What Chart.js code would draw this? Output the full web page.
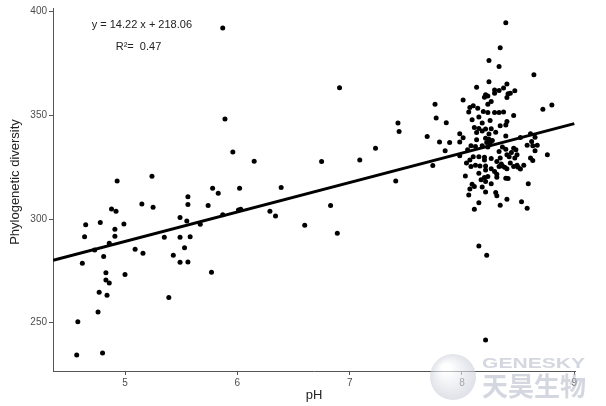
<!DOCTYPE html>
<html>
<head>
<meta charset="utf-8">
<script src="https://cdn.jsdelivr.net/npm/chart.js@4"></script>
<style>
  html, body { margin: 0; padding: 0; background: #fff; }
  #wrap { width: 606px; height: 406px; position: relative; }
</style>
</head>
<body>
<div id="wrap"><canvas id="phChart" width="606" height="406"></canvas></div>
<script>
// soil pH vs phylogenetic diversity
const phValues = [
  4.93, 5.24, 5.15, 5.25, 4.88, 4.92, 4.65, 4.78, 4.99, 4.91, 4.64, 4.91, 5.49, 5.35, 5.49, 4.86, 4.73,
  4.81, 5.09, 5.16, 4.62, 5.43, 5.49, 4.83, 5.00, 4.83, 4.86, 4.77, 4.84, 5.39, 4.76, 4.58, 4.57, 4.80,
  5.89, 5.96, 6.15, 5.78, 5.83, 6.02, 6.39, 5.56, 5.56, 5.74, 5.55, 5.87, 6.01, 6.03, 5.67, 6.29, 6.34,
  6.60, 5.58, 5.53, 5.56, 5.77,
  5.87, 6.91, 6.75, 7.09, 7.23, 7.43, 7.44, 7.41,
  7.76, 7.77, 7.69, 7.80, 7.74, 6.83, 6.89,
  8.24, 8.33, 8.64, 8.13, 8.24, 8.40, 8.47, 8.29, 8.33, 8.37, 8.41, 8.43, 8.40, 8.29, 8.21, 8.23, 8.20,
  8.01, 8.26, 8.23, 8.10, 8.07, 8.14, 8.06, 8.19, 8.23, 8.29, 8.33, 8.37, 8.72, 8.80, 8.46, 8.09, 8.15,
  8.25, 8.40, 7.86, 8.18, 8.39, 8.34, 8.11, 8.15, 8.21, 8.26, 8.30, 8.18, 8.13, 7.98, 8.01, 8.24, 8.39,
  8.21, 8.24, 8.27, 8.13, 7.89, 7.98, 8.22, 8.25, 8.61, 8.65, 8.52, 8.62, 8.58, 8.67, 8.63, 8.65, 7.85,
  8.12, 8.18, 8.23, 8.36, 8.39, 8.46, 8.48, 8.05, 8.08, 8.33, 8.44, 8.40, 7.98, 8.76, 8.49, 8.61, 8.63,
  8.10, 8.15, 8.20, 8.26, 8.34, 8.42, 8.47, 8.07, 8.20, 8.31, 8.35, 8.43, 8.49, 8.50, 8.55, 8.52, 8.04,
  8.08, 8.12, 8.16, 8.21, 8.26, 8.33, 8.38, 8.36, 8.40, 8.46, 8.21, 8.29, 8.15, 8.03, 8.20, 8.23, 8.31,
  8.31, 8.39, 8.41, 8.17, 8.21, 8.09, 8.11, 8.18, 8.07, 8.26, 8.59, 8.21, 8.30, 8.31, 8.06, 8.40, 8.15,
  8.34, 8.53, 8.58, 8.11, 8.15, 8.22, 8.21, 8.39, 8.34
];
const pdValues = [
  318.3, 320.7, 307.3, 305.7, 304.9, 303.8, 297.3, 298.3, 297.6, 295.1, 291.5, 291.7, 300.7, 291.2, 291.2, 288.3, 285.1,
  281.9, 285.4, 283.5, 278.7, 282.5, 279.2, 274.1, 273.2, 270.6, 269.2, 264.7, 263.2, 262.1, 255.2, 250.5, 234.4, 235.4,
  348.2, 332.3, 327.9, 314.9, 312.5, 314.9, 315.2, 310.8, 307.0, 306.5, 299.1, 302.1, 304.4, 304.7, 297.5, 303.8, 301.5,
  297.0, 291.5, 286.1, 279.3, 274.3,
  392.1, 363.3, 327.7, 328.5, 334.2, 346.3, 342.2, 318.3,
  355.4, 348.7, 339.8, 337.2, 325.8, 306.5, 293.2,
  376.5, 373.6, 369.6, 363.6, 366.2, 365.1, 361.9, 362.3, 362.0, 363.2, 360.4, 360.7, 358.6, 360.7, 359.9, 359.4, 358.8,
  357.4, 356.7, 355.4, 354.6, 353.8, 353.5, 351.6, 351.9, 351.4, 351.4, 351.4, 351.6, 353.0, 355.0, 349.9, 347.9, 349.2,
  347.5, 347.0, 346.4, 346.3, 345.4, 345.0, 344.1, 343.7, 343.4, 343.5, 341.9, 342.5, 341.7, 341.1, 339.2, 341.0, 340.1,
  339.0, 338.5, 337.9, 338.2, 336.9, 337.2, 336.9, 336.6, 341.1, 339.5, 339.3, 337.4, 335.6, 335.6, 335.3, 333.0, 333.0,
  335.0, 335.3, 334.7, 334.7, 333.7, 334.2, 333.4, 333.4, 335.3, 332.6, 332.1, 331.0, 330.5, 331.0, 331.0, 329.4, 328.2,
  330.1, 330.1, 329.8, 329.2, 329.5, 330.1, 329.4, 328.5, 328.5, 327.7, 326.6, 327.0, 326.0, 325.0, 326.0, 324.1, 327.0,
  325.3, 326.0, 325.6, 325.6, 324.2, 325.3, 325.0, 325.6, 324.3, 325.3, 323.7, 322.9, 322.1, 320.8, 320.0, 320.5, 321.6,
  320.2, 319.7, 319.5, 318.9, 318.1, 316.8, 315.7, 315.4, 314.5, 317.0, 317.0, 313.1, 312.8, 311.2, 311.6, 309.6, 307.9,
  306.7, 308.4, 305.2, 304.7, 287.0, 282.5, 241.6, 394.7, 382.6
];

// fitted line shown on the figure
const slope = 14.22;
const intercept = 218.06;
const fitX = [4.36, 9.0];
const xTicks = [5, 6, 7, 8, 9];
const yTicks = [250, 300, 350, 400];

const points = phValues.map((v, i) => ({ x: v, y: pdValues[i] }));
const fitLine = fitX.map(v => ({ x: v, y: slope * v + intercept }));

const FONT = "'Liberation Sans', Arial, sans-serif";

const labelPlugin = {
  id: "labels",
  afterDatasetsDraw(chart) {
    const { ctx, scales: { x, y } } = chart;
    ctx.save();
    ctx.fillStyle = "#222";
    ctx.font = "11px " + FONT;
    ctx.textAlign = "center";
    ctx.textBaseline = "middle";
    ctx.fillText("y = " + slope.toFixed(2) + " x + " + intercept.toFixed(2), x.getPixelForValue(5.15), y.getPixelForValue(393.4));
    ctx.fillText("R\u00B2=  0.47", x.getPixelForValue(5.12), y.getPixelForValue(383.2));
    // y axis title
    ctx.font = "13px " + FONT;
    ctx.translate(15, 182);
    ctx.rotate(-Math.PI / 2);
    ctx.fillText("Phylogenetic diversity", 0, 0);
    ctx.restore();
  },
  afterDraw(chart) {
    // watermark
    const { ctx } = chart;
    ctx.save();
    ctx.globalAlpha = 0.6;
    const g = ctx.createRadialGradient(446, 368, 4, 453, 377, 24);
    g.addColorStop(0, "#ffffff");
    g.addColorStop(1, "#c9ccd8");
    ctx.fillStyle = g;
    ctx.beginPath();
    ctx.arc(453, 377, 23, 0, Math.PI * 2);
    ctx.fill();
    ctx.fillStyle = "#b9bdcc";
    ctx.font = "bold 15px " + FONT;
    ctx.textBaseline = "alphabetic";
    const w = ctx.measureText("GENESKY").width;
    ctx.translate(482, 368);
    ctx.scale(103 / w, 1);
    ctx.fillText("GENESKY", 0, 0);
    ctx.restore();
    ctx.save();
    ctx.globalAlpha = 0.6;
    ctx.fillStyle = "#b9bdcc";
    ctx.font = "bold 26px 'Noto Sans CJK SC', sans-serif";
    ctx.textBaseline = "alphabetic";
    ctx.fillText("天昊生物", 482, 396);
    ctx.restore();
  }
};

new Chart(document.getElementById("phChart"), {
  type: "scatter",
  data: {
    datasets: [
      {
        label: "samples",
        data: points,
        backgroundColor: "#000",
        borderWidth: 0,
        pointRadius: 2.5
      },
      {
        type: "line",
        label: "fit",
        data: fitLine,
        borderColor: "#000",
        borderWidth: 3,
        pointRadius: 0,
        fill: false
      }
    ]
  },
  options: {
    responsive: false,
    animation: false,
    layout: { padding: { top: 8, right: 31, left: 0, bottom: 0 } },
    plugins: { legend: { display: false }, tooltip: { enabled: false } },
    scales: {
      x: {
        type: "linear",
        min: 4.359,
        max: 9.006,
        afterFit: s => { s.height = 35; },
        afterBuildTicks: s => { s.ticks = xTicks.map(v => ({ value: v })); },
        ticks: { color: "#4d4d4d", font: { size: 10, family: FONT }, padding: 2 },
        grid: { drawOnChartArea: false, drawTicks: true, tickLength: 4, color: "#555" },
        border: { display: true, color: "#555", width: 1 },
        title: { display: true, text: "pH", color: "#222", font: { size: 13, family: FONT }, padding: { top: 0, bottom: 3 } }
      },
      y: {
        min: 226.7,
        max: 401.8,
        afterFit: s => { s.width = 53; },
        afterBuildTicks: s => { s.ticks = yTicks.map(v => ({ value: v })); },
        ticks: { color: "#4d4d4d", font: { size: 10, family: FONT }, padding: 2 },
        grid: { drawOnChartArea: false, drawTicks: true, tickLength: 4, color: "#555" },
        border: { display: true, color: "#555", width: 1 }
      }
    }
  },
  plugins: [labelPlugin]
});
</script>
</body>
</html>
